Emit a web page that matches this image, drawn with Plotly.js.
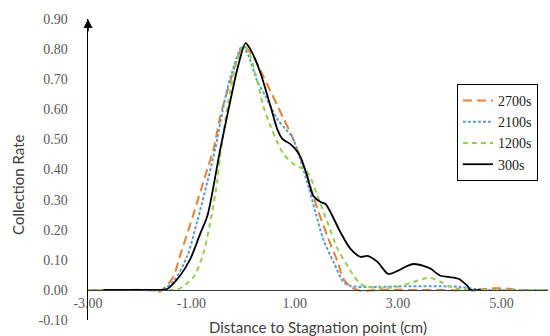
<!DOCTYPE html>
<html><head><meta charset="utf-8">
<script src="https://cdn.plot.ly/plotly-3.0.1.min.js"></script>
<style>html,body{margin:0;padding:0;background:#fff;}#chart{width:550px;height:336px;}</style>
</head><body><div id="chart"></div>
<script>
const seriesNames = ['2700s', '2100s', '1200s', '300s'];

const x2700 = [-3, -2.2, -1.8, -1.6, -1.5, -1.35, -1.22, -0.97, -0.69, -0.57, -0.44, -0.25, -0.11, 0.0, 0.2, 0.39, 0.53, 0.66, 0.78, 0.91, 1.01, 1.3, 1.44, 1.63, 1.83, 1.94, 2.08, 2.27, 2.6, 4.5, 4.8, 5.1, 5.3, 5.9];
const y2700 = [0, 0, 0, -0.005, 0.01, 0.043, 0.113, 0.246, 0.402, 0.468, 0.578, 0.691, 0.768, 0.81, 0.775, 0.71, 0.66, 0.615, 0.57, 0.525, 0.485, 0.346, 0.269, 0.179, 0.093, 0.037, 0.01, -0.003, 0, 0, 0.005, 0.005, 0, 0];

const x2100 = [-3, -2.0, -1.6, -1.35, -1.08, -0.89, -0.69, -0.54, -0.4, -0.29, -0.11, -0.02, 0.1, 0.28, 0.43, 0.66, 0.82, 0.95, 1.26, 1.4, 1.55, 1.75, 1.94, 2.08, 2.21, 2.6, 3.2, 3.8, 4.2, 4.5, 4.7, 5.9];
const y2100 = [0, 0, 0, 0.027, 0.113, 0.226, 0.359, 0.468, 0.591, 0.678, 0.777, 0.81, 0.78, 0.691, 0.645, 0.568, 0.535, 0.508, 0.346, 0.259, 0.169, 0.093, 0.027, 0.013, 0.01, 0.01, 0.012, 0.012, 0.01, 0.003, 0, 0];

const x1200 = [-3, -2.0, -1.4, -1.28, -0.97, -0.77, -0.64, -0.5, -0.44, -0.29, -0.15, 0.02, 0.14, 0.28, 0.39, 0.53, 0.66, 0.78, 0.97, 1.24, 1.44, 1.63, 1.83, 2.02, 2.14, 2.27, 2.41, 2.85, 3.18, 3.49, 3.63, 3.82, 4.02, 4.21, 4.5, 5.9];
const y1200 = [0, 0, 0, 0, 0.04, 0.12, 0.22, 0.36, 0.45, 0.62, 0.74, 0.814, 0.777, 0.691, 0.611, 0.545, 0.492, 0.452, 0.419, 0.392, 0.312, 0.226, 0.136, 0.08, 0.047, 0.02, 0.01, 0.007, 0.02, 0.037, 0.04, 0.027, 0.01, 0.003, 0, 0];

const x300 = [-2.7, -2.0, -1.6, -1.47, -1.22, -1.02, -0.83, -0.69, -0.44, -0.25, -0.11, 0.05, 0.14, 0.33, 0.53, 0.66, 0.76, 0.91, 1.01, 1.11, 1.24, 1.36, 1.5, 1.59, 1.69, 1.88, 2.08, 2.27, 2.41, 2.6, 2.81, 2.99, 3.18, 3.3, 3.49, 3.63, 3.82, 3.98, 4.17, 4.34, 4.4, 4.6];
const y300 = [0, 0, 0, 0.003, 0.047, 0.103, 0.186, 0.246, 0.468, 0.625, 0.734, 0.82, 0.80, 0.724, 0.611, 0.535, 0.502, 0.485, 0.468, 0.442, 0.379, 0.312, 0.292, 0.286, 0.259, 0.193, 0.136, 0.11, 0.113, 0.093, 0.053, 0.063, 0.08, 0.086, 0.08, 0.07, 0.047, 0.043, 0.037, 0.013, 0, 0];

const xTickVals = [-3, -1, 1, 3, 5];
const xTickText = ['-3.00', '-1.00', '1.00', '3.00', '5.00'];
const yTickVals = [-0.1, 0, 0.1, 0.2, 0.3, 0.4, 0.5, 0.6, 0.7, 0.8, 0.9];
const yTickText = ['-0.10', '0.00', '0.10', '0.20', '0.30', '0.40', '0.50', '0.60', '0.70', '0.80', '0.90'];

const xTitle = 'Distance to Stagnation point (cm)';
const yTitle = 'Collection Rate';

const styles = [
  {color: '#ED7D31', dash: '9px,5px', width: 2},
  {color: '#5B9BD5', dash: '3px,2px', width: 2},
  {color: '#92D050', dash: '5px,4px', width: 2},
  {color: '#000000', dash: 'solid', width: 1.8}
];
const xs = [x2700, x2100, x1200, x300];
const ys = [y2700, y2100, y1200, y300];

const traces = seriesNames.map((n, i) => ({
  type: 'scatter', mode: 'lines', name: n, x: xs[i], y: ys[i],
  line: {color: styles[i].color, dash: styles[i].dash, width: styles[i].width, shape: 'spline', smoothing: 0.8}
}));

const tickFont = {family: 'Liberation Serif', size: 14, color: '#595959'};
const titleFont = {family: 'Lato', size: 15, color: '#404040'};

const layout = {
  width: 550, height: 336,
  margin: {l: 88, r: 2, t: 19, b: 16},
  paper_bgcolor: '#ffffff', plot_bgcolor: '#ffffff',
  showlegend: true,
  legend: {x: 0.802, y: 0.784, xanchor: 'left', yanchor: 'top', bordercolor: '#000', borderwidth: 1,
    bgcolor: '#ffffff', font: {family: 'Liberation Serif', size: 14, color: '#222222'}},
  xaxis: {range: [-3, 5.9], tickvals: xTickVals, ticktext: xTickText, tickfont: tickFont,
    showgrid: false, zeroline: false, showline: true, linecolor: '#3a3a3a', linewidth: 1.5,
    anchor: 'free', position: 0.1, ticks: '', fixedrange: true},
  yaxis: {range: [-0.1, 0.9], tickvals: yTickVals, ticktext: yTickText, tickfont: tickFont,
    showgrid: false, zeroline: false, showline: true, linecolor: '#000', linewidth: 1.5,
    ticks: '', ticklabelstandoff: 16, fixedrange: true},
  annotations: [
    {xref: 'x', yref: 'y', x: -3, y: 0.9, ax: 0, ay: 14, showarrow: true, arrowhead: 2, arrowsize: 1.2, arrowwidth: 1.5, arrowcolor: '#000', text: ''},
    {xref: 'paper', yref: 'paper', x: 0.5, y: -0.0233, xanchor: 'center', yanchor: 'middle', showarrow: false, text: xTitle, font: titleFont},
    {xref: 'paper', yref: 'paper', x: -0.152, y: 0.449, xanchor: 'center', yanchor: 'middle', showarrow: false, textangle: -90, text: yTitle, font: titleFont}
  ]
};

Plotly.newPlot('chart', traces, layout, {staticPlot: true, displayModeBar: false});
</script>
</body></html>
